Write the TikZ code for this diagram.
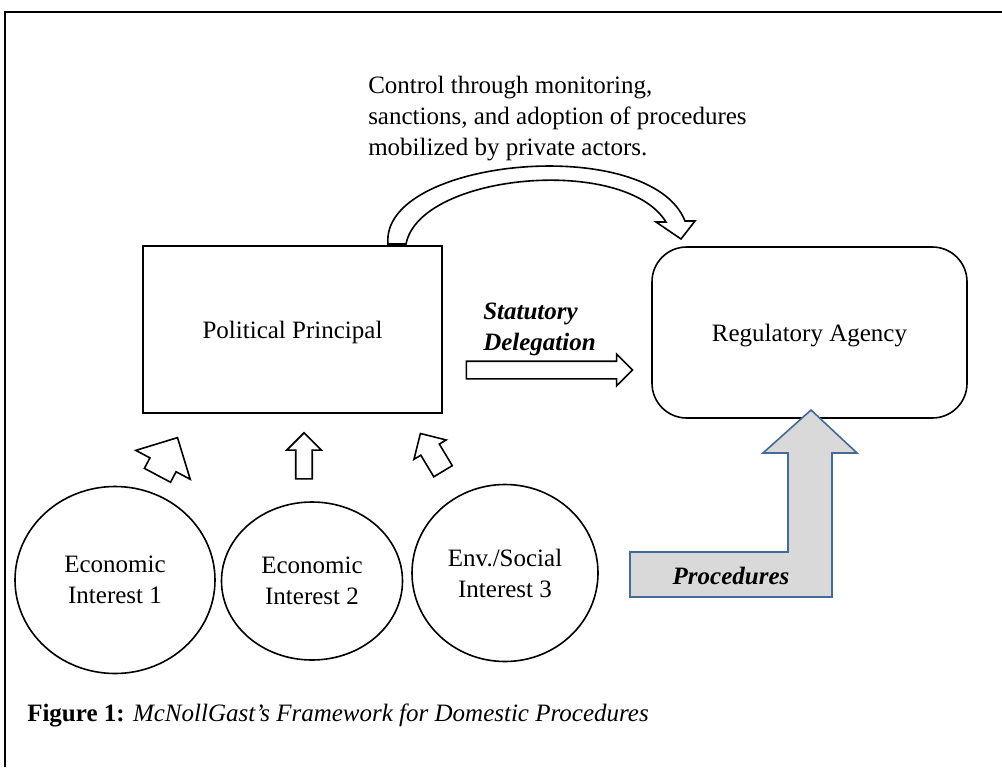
\documentclass[tikz,border=0pt]{standalone}
\usepackage{fontspec}
\setmainfont{Liberation Serif}
\usepackage{tikz}
\usetikzlibrary{shapes,arrows,positioning,calc}
\definecolor{procblue}{RGB}{68,106,152}
\definecolor{procgray}{RGB}{217,217,217}
\tikzset{
    txt/.style={font=\fontsize{18.75pt}{23.25pt}\selectfont},
    outline/.style={draw, line width=1.2pt},
    interest/.style={outline, ellipse, txt, align=center, inner sep=0pt},
    blockarrow/.style={outline, single arrow, fill=white, inner xsep=0pt}
}

\begin{document}
\begin{tikzpicture}[x=0.75pt, y=-0.75pt]
    \useasboundingbox (0,0) rectangle (1002,767);
    \draw[line width=2pt] (5,767) -- (5,12) -- (1002,12);

    \node[outline, rectangle, txt, text height=17.5pt, text depth=4pt, minimum width=224.25pt, minimum height=125.25pt] (principal) at (292.5,329.5) {Political Principal};
    \node[outline, rectangle, rounded corners=26pt, txt, text height=17.5pt, text depth=4pt, minimum width=236.25pt, minimum height=128.25pt] (agency) at (809.5,332.5) {Regulatory Agency};

    \node[interest, minimum width=150pt, minimum height=140.25pt] (econone) at (115,580) {Economic\\Interest 1};
    \node[interest, minimum width=135.75pt, minimum height=118.5pt] (econtwo) at (312,581) {Economic\\Interest 2};
    \node[interest, minimum width=139.5pt, minimum height=132.75pt] (envsocial) at (505,573) {Env./Social\\Interest 3};

    \node[blockarrow, rotate=62, minimum height=32pt, inner ysep=10.5pt, single arrow head extend=12pt] (pushone) at (164,463) {};
    \node[blockarrow, rotate=90, minimum height=34.5pt, inner ysep=5.6pt, single arrow head extend=6.75pt] (pushtwo) at (304,460) {};
    \node[blockarrow, rotate=121, minimum height=33pt, inner ysep=7.5pt, single arrow head extend=6pt] (pushthree) at (434.5,457) {};

    \node[blockarrow, minimum height=124.5pt, inner ysep=6pt, single arrow head extend=5.25pt] (delegation) at (545,370) {};
    \node[txt, anchor=west, align=left, inner sep=0pt] (deleglabel) at (483,329) {\textbf{\textit{Statutory}}\\\textbf{\textit{Delegation}}};

    \draw[outline, fill=white] (388,244) .. controls (380,158) and (650,133) .. (685,221) -- (695,221) -- (681,239) -- (656,222) -- (666,222) .. controls (625,155) and (420,173) .. (406,244) -- cycle;
    \node[txt, anchor=north west, align=left, inner sep=0pt] (control) at (368,76) {Control through monitoring,\\sanctions, and adoption of procedures\\mobilized by private actors.};

    \draw[line width=1.2pt, draw=procblue, fill=procgray] (630,597) -- (630,552) -- (788,552) -- (788,453) -- (763,453) -- (811,410) -- (857,453) -- (832,453) -- (832,597) -- cycle;
    \node[txt] (proclabel) at (731,576) {\textbf{\textit{Procedures}}};

    \node[txt, anchor=base west, inner sep=0pt] (caption) at (27,721) {\textbf{Figure 1:} \textit{McNollGast’s Framework for Domestic Procedures}};
\end{tikzpicture}
\end{document}
